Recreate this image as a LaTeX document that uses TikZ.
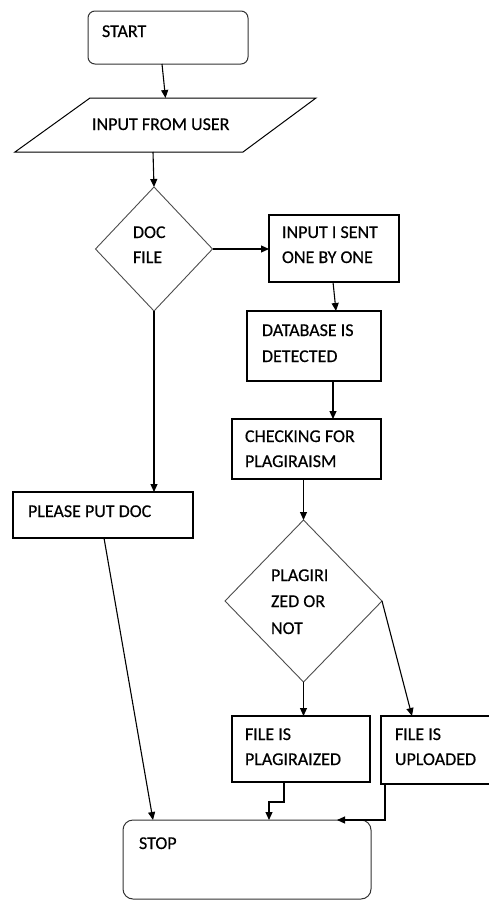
\documentclass[tikz,border=0pt]{standalone}
\usepackage{fontspec}
\setmainfont{Carlito}
\newfontfamily\boxfont{Carlito}[FakeBold=0.4]
\usetikzlibrary{shapes.geometric,arrows.meta}
\begin{document}
\begin{tikzpicture}[x=1pt,y=-1pt,
  box/.style={draw=black, line width=1.1pt, inner sep=0pt, outer sep=0pt, rectangle},
  rbox/.style={draw=black!80, line width=1pt, rectangle, inner sep=0pt, outer sep=0pt},
  dia/.style={diamond, draw=black!70, line width=0.9pt, inner sep=0pt, outer sep=0pt},
  pline/.style={draw=black, line width=1pt, line join=miter},
  anch/.style={rectangle, inner sep=0pt, outer sep=0pt},
  txt/.style={anchor=base west, inner sep=0pt, outer sep=0pt, font=\boxfont\fontsize{18}{21}\selectfont},
  arr/.style={line width=1.1pt, -{Triangle[length=8pt,width=7pt]}},
  ln/.style={line width=1.1pt}]
\useasboundingbox (0,0) rectangle (489,900);
\clip (0,0) rectangle (489,900);
% shapes
\node[rbox, rounded corners=7pt, minimum width=160pt, minimum height=53pt] (start) at (168,37.5) {};
\draw[pline] (90,98) -- (316,98) -- (243,152) -- (15,152) -- cycle;
\node[anch, minimum width=151pt, minimum height=54pt] (inp) at (165.5,125) {};
\node[dia, minimum width=117pt, minimum height=124pt] (doc) at (154,249) {};
\node[box, minimum width=130pt, minimum height=67pt] (sent) at (334,248.5) {};
\node[box, minimum width=134pt, minimum height=70pt] (db) at (314,346) {};
\node[box, minimum width=149pt, minimum height=60pt] (chk) at (306.5,449) {};
\node[box, minimum width=180pt, minimum height=46pt] (please) at (103,515) {};
\node[dia, minimum width=157pt, minimum height=162pt] (pl) at (303.5,601) {};
\node[box, minimum width=138pt, minimum height=66pt] (fp) at (301,749) {};
\node[box, minimum width=119pt, minimum height=68pt] (fu) at (440.5,750) {};
\node[rbox, rounded corners=10pt, minimum width=248pt, minimum height=79pt] (stop) at (247,859.5) {};
% texts
\node[txt] (t1) at (102,37) {START};
\node[txt] (t2) at (92,130) {INPUT FROM USER};
\node[txt] (t3) at (133,238) {DOC};
\node[txt] (t4) at (133,263) {FILE};
\node[txt] (t5) at (282,238) {INPUT I SENT};
\node[txt] (t6) at (282,263) {ONE BY ONE};
\node[txt] (t7) at (262,336) {DATABASE IS};
\node[txt] (t8) at (262,362) {DETECTED};
\node[txt] (t9) at (245,442) {CHECKING FOR};
\node[txt] (t10) at (245,467) {PLAGIRAISM};
\node[txt] (t11) at (28,517) {PLEASE PUT DOC};
\node[txt] (t12) at (271,581) {PLAGIRI};
\node[txt] (t13) at (271,607) {ZED OR};
\node[txt] (t14) at (271,634) {NOT};
\node[txt] (t15) at (245,740) {FILE IS};
\node[txt] (t16) at (245,765) {PLAGIRAIZED};
\node[txt] (t17) at (395,740) {FILE IS};
\node[txt] (t18) at (395,765) {UPLOADED};
\node[txt] (t19) at (139,849) {STOP};
% connectors
\draw[arr] ([xshift=-6pt]start.south) -- (inp.north);
\draw[arr] ([xshift=-12.5pt]inp.south) -- (doc.north);
\draw[arr] (doc.east) -- (doc.east -| sent.west);
\draw[arr] ([xshift=-1pt]sent.south) -- ([xshift=22pt]db.north);
\draw[arr] ([xshift=19pt]db.south) -- ([xshift=19pt]db.south |- chk.north);
\draw[arr] (pl.north |- chk.south) -- (pl.north);
\draw[arr] (doc.south) -- (doc.south |- please.north);
\draw[arr] ([xshift=1pt]please.south) -- ([xshift=-94pt]stop.north);
\draw[arr] (pl.south) -- (pl.south |- fp.north);
\draw[arr] (pl.east) -- ([xshift=-28.5pt]fu.north);
\draw[arr] ([xshift=-17pt]fp.south) -- ++(0,20) -| ([xshift=22pt]stop.north);
\draw[arr] ([xshift=-55.5pt]fu.south) |- ([xshift=90pt]stop.north);
\end{tikzpicture}
\end{document}
